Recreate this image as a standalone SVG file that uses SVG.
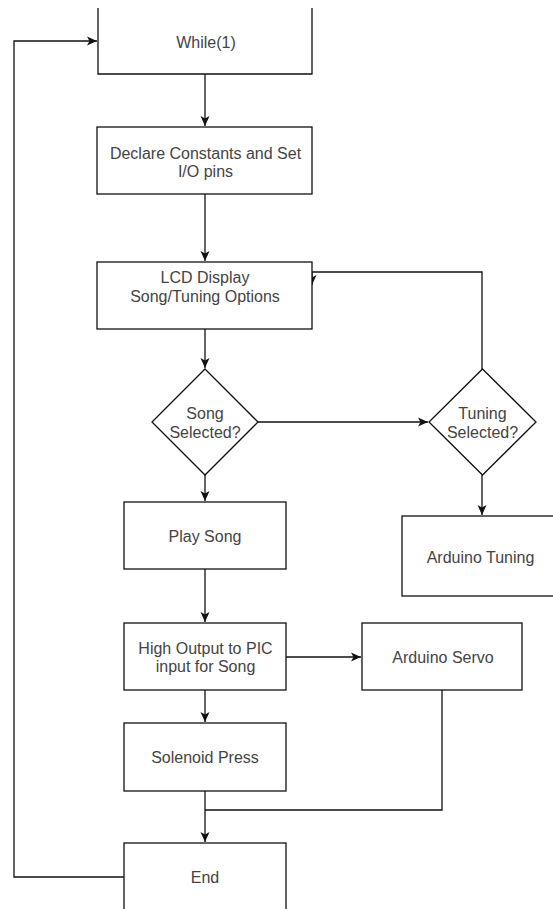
<svg xmlns="http://www.w3.org/2000/svg" width="553" height="909" viewBox="0 0 553 909">
<style>
.box{fill:#fff;stroke:#111;stroke-width:1.3}
.edge{fill:none;stroke:#111;stroke-width:1.3}
text{font-family:"Liberation Sans",Arial,sans-serif;font-size:16px;fill:#444;text-anchor:middle}
</style>
<defs>
<marker id="arr" markerUnits="userSpaceOnUse" markerWidth="11" markerHeight="10" refX="10" refY="5" orient="auto">
<path d="M0,0.5 L10,5 L0,9.5 L2.5,5 Z" fill="#111"/>
</marker>
</defs>
<rect width="553" height="909" fill="#fff"/>
<g id="connectors">
<path class="edge" d="M124,877 H14 V41 H97" marker-end="url(#arr)"/>
<path class="edge" d="M205,74 V126" marker-end="url(#arr)"/>
<path class="edge" d="M205,194 V261" marker-end="url(#arr)"/>
<path class="edge" d="M205,329 V368" marker-end="url(#arr)"/>
<path class="edge" d="M258,422 H428" marker-end="url(#arr)"/>
<path class="edge" d="M482,369 V272 H312 V285" marker-end="url(#arr)"/>
<path class="edge" d="M205,475 V501" marker-end="url(#arr)"/>
<path class="edge" d="M482,475 V515" marker-end="url(#arr)"/>
<path class="edge" d="M205,569 V622" marker-end="url(#arr)"/>
<path class="edge" d="M286,657 H361" marker-end="url(#arr)"/>
<path class="edge" d="M205,690 V722" marker-end="url(#arr)"/>
<path class="edge" d="M205,791 V842" marker-end="url(#arr)"/>
<path class="edge" d="M442,690 V810 H205"/>
</g>
<g id="while">
<path class="box" d="M98,8 V74 H312 V8"/>
<text x="206" y="47.5">While(1)</text>
</g>
<g id="declare">
<rect class="box" x="97" y="127" width="215" height="67"/>
<text x="205.5" y="158.5">Declare Constants and Set</text>
<text x="205.5" y="177">I/O pins</text>
</g>
<g id="lcd">
<rect class="box" x="97" y="262" width="215" height="67"/>
<text x="205" y="283">LCD Display</text>
<text x="205" y="301.5">Song/Tuning Options</text>
</g>
<g id="song">
<path class="box" d="M205,369 L258,422 L205,475 L152,422 Z"/>
<text x="205" y="419">Song</text>
<text x="205" y="437.5">Selected?</text>
</g>
<g id="tuning">
<path class="box" d="M482.5,369 L536,422 L482.5,475 L429,422 Z"/>
<text x="482.5" y="419">Tuning</text>
<text x="482.5" y="437.5">Selected?</text>
</g>
<g id="playsong">
<rect class="box" x="124" y="502" width="162" height="67"/>
<text x="205" y="542">Play Song</text>
</g>
<g id="arduinotuning">
<rect class="box" x="402" y="516" width="157" height="80"/>
<text x="480.5" y="563">Arduino Tuning</text>
</g>
<g id="highoutput">
<rect class="box" x="124" y="623" width="162" height="67"/>
<text x="205.5" y="653.5">High Output to PIC</text>
<text x="205.5" y="672">input for Song</text>
</g>
<g id="arduinoservo">
<rect class="box" x="362" y="623" width="160" height="67"/>
<text x="443" y="662.5">Arduino Servo</text>
</g>
<g id="solenoid">
<rect class="box" x="124" y="723" width="162" height="68"/>
<text x="205" y="763">Solenoid Press</text>
</g>
<g id="end">
<rect class="box" x="124" y="843" width="162" height="80"/>
<text x="205" y="883">End</text>
</g>
</svg>
